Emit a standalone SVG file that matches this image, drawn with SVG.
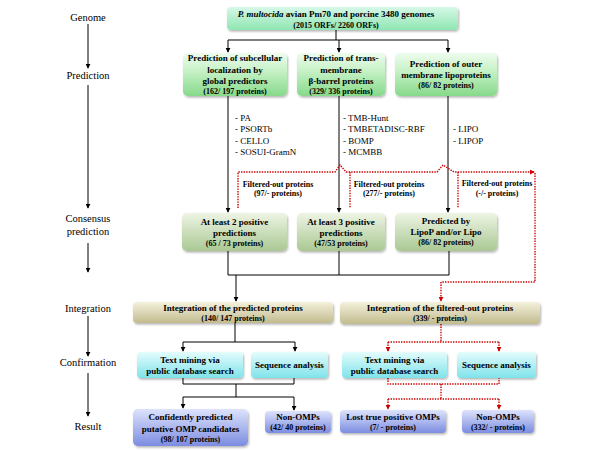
<svg xmlns="http://www.w3.org/2000/svg" width="600" height="450" viewBox="0 0 600 450">
<defs>
<linearGradient id="gGen" x1="0" y1="0" x2="0" y2="1"><stop offset="0" stop-color="#d6f8e8"/><stop offset="1" stop-color="#8fe6b2"/></linearGradient>
<linearGradient id="gPred" x1="0" y1="0" x2="0" y2="1"><stop offset="0" stop-color="#eefcee"/><stop offset="0.4" stop-color="#c8f2c8"/><stop offset="1" stop-color="#86d98a"/></linearGradient>
<linearGradient id="gCons" x1="0" y1="0" x2="0" y2="1"><stop offset="0" stop-color="#eef4e4"/><stop offset="1" stop-color="#a9c893"/></linearGradient>
<linearGradient id="gInt" x1="0" y1="0" x2="0" y2="1"><stop offset="0" stop-color="#f4f1dc"/><stop offset="1" stop-color="#c2bb8e"/></linearGradient>
<linearGradient id="gConf" x1="0" y1="0" x2="0" y2="1"><stop offset="0" stop-color="#e4fcfc"/><stop offset="1" stop-color="#7fe3ea"/></linearGradient>
<linearGradient id="gRes" x1="0" y1="0" x2="0" y2="1"><stop offset="0" stop-color="#dde3fc"/><stop offset="1" stop-color="#7c8ce0"/></linearGradient>
<filter id="sh" x="-10%" y="-10%" width="120%" height="140%"><feDropShadow dx="1" dy="1.5" stdDeviation="1" flood-color="#000" flood-opacity="0.3"/></filter>
<marker id="ab" markerWidth="5" markerHeight="5" refX="2.5" refY="4" orient="auto-start-reverse" markerUnits="userSpaceOnUse" viewBox="0 0 5 5"><path d="M0,0 L5,0 L2.5,5 Z" transform="rotate(-90 2.5 2.5)" fill="#000"/></marker>
<marker id="a" viewBox="0 0 6 6" refX="5" refY="3" markerWidth="5" markerHeight="5" orient="auto" markerUnits="userSpaceOnUse"><path d="M0,0 L6,3 L0,6 Z" fill="#000"/></marker>
<marker id="ar" viewBox="0 0 6 6" refX="5" refY="3" markerWidth="5" markerHeight="5" orient="auto" markerUnits="userSpaceOnUse"><path d="M0,0 L6,3 L0,6 Z" fill="#cc0000"/></marker>
</defs>
<style>
.box{filter:url(#sh);}
.t{font-family:"Liberation Serif","Times New Roman",serif;font-weight:bold;font-size:9px;fill:#000;text-anchor:middle;}
.c{font-family:"Liberation Serif","Times New Roman",serif;font-weight:bold;font-size:8px;fill:#000;text-anchor:middle;}
.m{font-family:"Liberation Serif","Times New Roman",serif;font-size:9px;fill:#000;}
.l{font-family:"Liberation Serif","Times New Roman",serif;font-size:10.5px;fill:#000;text-anchor:middle;}
.k{fill:none;stroke:#000;stroke-width:1;}
.r{fill:none;stroke:#cc0000;stroke-width:1.4;stroke-dasharray:1.4,1.2;}
</style>
<rect width="600" height="450" fill="#fff"/>

<g id="stages">
<text class="l" x="88" y="21">Genome</text>
<text class="l" x="88" y="79">Prediction</text>
<text class="l" x="88" y="222">Consensus</text>
<text class="l" x="88" y="235">prediction</text>
<text class="l" x="88" y="312">Integration</text>
<text class="l" x="88" y="366">Confirmation</text>
<text class="l" x="88" y="430">Result</text>
</g>

<g id="connectors">
<g class="k">
<path d="M88,24 V68" marker-end="url(#a)"/>
<path d="M88,85 V208" marker-end="url(#a)"/>
<path d="M88,243 V272" marker-end="url(#a)"/>
<path d="M88,316 V356" marker-end="url(#a)"/>
<path d="M88,373 V416" marker-end="url(#a)"/>
<path d="M336,30 V40 M228,40 H448"/>
<path d="M228,40 V52" marker-end="url(#a)"/>
<path d="M339,40 V52" marker-end="url(#a)"/>
<path d="M448,40 V52" marker-end="url(#a)"/>
<path d="M228,96 V212" marker-end="url(#a)"/>
<path d="M339,96 V212" marker-end="url(#a)"/>
<path d="M448,96 V212" marker-end="url(#a)"/>
<path d="M228,251 V275 H449 V251 M339,251 V275"/>
<path d="M236,275 V301" marker-end="url(#a)"/>
<path d="M235,323 V342 M183,342 H295"/>
<path d="M183,342 V351" marker-end="url(#a)"/>
<path d="M295,342 V351" marker-end="url(#a)"/>
<path d="M183,378 V384 H294 V378 M236,384 V397 M183,397 H294"/>
<path d="M183,397 V408" marker-end="url(#a)"/>
<path d="M294,397 V410" marker-end="url(#a)"/>
</g>
<g class="r">
<path d="M238,208 V172 H335 L340,165 L346,172 H437 L443,165 L454,172 H534" marker-end="url(#ar)"/>
<path d="M350,172 V208 M458,172 V208"/>
<path d="M535,173 V282 H441" />
<path d="M441,282 V301" marker-end="url(#ar)"/>
<path d="M441,324 V342 M388,342 H499"/>
<path d="M388,342 V351" marker-end="url(#ar)"/>
<path d="M499,342 V351" marker-end="url(#ar)"/>
<path d="M388,378 V384 H499 V378 M441,384 V399 M388,399 H499"/>
<path d="M388,399 V409" marker-end="url(#ar)"/>
<path d="M499,399 V409" marker-end="url(#ar)"/>
</g>
</g>

<g id="methods">
<text class="m" x="235" y="121">- PA</text>
<text class="m" x="235" y="132">- PSORTb</text>
<text class="m" x="235" y="144">- CELLO</text>
<text class="m" x="235" y="155">- SOSUI-GramN</text>
<text class="m" x="343" y="121">- TMB-Hunt</text>
<text class="m" x="343" y="132">- TMBETADISC-RBF</text>
<text class="m" x="343" y="144">- BOMP</text>
<text class="m" x="343" y="155">- MCMBB</text>
<text class="m" x="453" y="132">- LIPO</text>
<text class="m" x="453" y="144">- LIPOP</text>
</g>

<g id="filtered">
<text class="c" x="278" y="187">Filtered-out proteins</text>
<text class="c" x="278" y="196">(97/- proteins)</text>
<text class="c" x="389" y="187">Filtered-out proteins</text>
<text class="c" x="389" y="196">(277/- proteins)</text>
<text class="c" x="497" y="186">Filtered-out proteins</text>
<text class="c" x="497" y="196">(-/- proteins)</text>
</g>

<g id="genome">
<rect class="box" x="227" y="7" width="231" height="23" rx="4" fill="url(#gGen)"/>
<text class="t" x="336" y="17"><tspan font-style="italic">P. multocida</tspan> avian Pm70 and porcine 3480 genomes</text>
<text class="c" x="336" y="28">(2015 ORFs/ 2260 ORFs)</text>
</g>

<g id="pred1">
<rect class="box" x="183" y="53" width="104" height="43" rx="5" fill="url(#gPred)"/>
<text class="t" x="235" y="61">Prediction of subcellular</text>
<text class="t" x="235" y="73">localization by</text>
<text class="t" x="235" y="84">global predictors</text>
<text class="c" x="235" y="94">(162/ 197 proteins)</text>
</g>
<g id="pred2">
<rect class="box" x="297" y="53" width="88" height="43" rx="5" fill="url(#gPred)"/>
<text class="t" x="341" y="61">Prediction of trans-</text>
<text class="t" x="341" y="73">membrane</text>
<text class="t" x="341" y="84">β-barrel proteins</text>
<text class="c" x="341" y="94">(329/ 336 proteins)</text>
</g>
<g id="pred3">
<rect class="box" x="395" y="53" width="102" height="43" rx="5" fill="url(#gPred)"/>
<text class="t" x="446" y="67">Prediction of outer</text>
<text class="t" x="446" y="78">membrane lipoproteins</text>
<text class="c" x="446" y="88">(86/ 82 proteins)</text>
</g>

<g id="cons1">
<rect class="box" x="182" y="213" width="105" height="38" rx="5" fill="url(#gCons)"/>
<text class="t" x="234.5" y="225">At least 2 positive</text>
<text class="t" x="234.5" y="236">predictions</text>
<text class="c" x="234.5" y="246">(65 / 73 proteins)</text>
</g>
<g id="cons2">
<rect class="box" x="297" y="213" width="88" height="38" rx="5" fill="url(#gCons)"/>
<text class="t" x="341" y="225">At least 3 positive</text>
<text class="t" x="341" y="236">predictions</text>
<text class="c" x="341" y="246">(47/53 proteins)</text>
</g>
<g id="cons3">
<rect class="box" x="395" y="213" width="102" height="38" rx="5" fill="url(#gCons)"/>
<text class="t" x="446" y="224">Predicted by</text>
<text class="t" x="446" y="235">LipoP and/or Lipo</text>
<text class="c" x="446" y="245">(86/ 82 proteins)</text>
</g>

<g id="int1">
<rect class="box" x="133" y="302" width="200" height="21" rx="4" fill="url(#gInt)"/>
<text class="t" x="233" y="311">Integration of the predicted proteins</text>
<text class="c" x="233" y="321">(140/ 147 proteins)</text>
</g>
<g id="int2">
<rect class="box" x="340" y="302" width="200" height="22" rx="4" fill="url(#gInt)"/>
<text class="t" x="440" y="311">Integration of the filtered-out proteins</text>
<text class="c" x="440" y="321">(339/ - proteins)</text>
</g>

<g id="conf1">
<rect class="box" x="137" y="352" width="106" height="26" rx="4" fill="url(#gConf)"/>
<text class="t" x="190" y="363">Text mining via</text>
<text class="t" x="190" y="374">public database search</text>
</g>
<g id="conf2">
<rect class="box" x="251" y="352" width="77" height="26" rx="4" fill="url(#gConf)"/>
<text class="t" x="289.5" y="368">Sequence analysis</text>
</g>
<g id="conf3">
<rect class="box" x="342" y="352" width="105" height="26" rx="4" fill="url(#gConf)"/>
<text class="t" x="394.5" y="363">Text mining via</text>
<text class="t" x="394.5" y="374">public database search</text>
</g>
<g id="conf4">
<rect class="box" x="457" y="352" width="79" height="26" rx="4" fill="url(#gConf)"/>
<text class="t" x="496.5" y="368">Sequence analysis</text>
</g>

<g id="res1">
<rect class="box" x="133" y="409" width="115" height="37" rx="5" fill="url(#gRes)"/>
<text class="t" x="190.5" y="420">Confidently predicted</text>
<text class="t" x="190.5" y="432">putative OMP candidates</text>
<text class="c" x="190.5" y="442">(98/ 107 proteins)</text>
</g>
<g id="res2">
<rect class="box" x="265" y="411" width="66" height="22" rx="4" fill="url(#gRes)"/>
<text class="t" x="298" y="420">Non-OMPs</text>
<text class="c" x="298" y="430">(42/ 40 proteins)</text>
</g>
<g id="res3">
<rect class="box" x="340" y="410" width="106" height="23" rx="4" fill="url(#gRes)"/>
<text class="t" x="393" y="420">Lost true positive OMPs</text>
<text class="c" x="393" y="430">(7/ - proteins)</text>
</g>
<g id="res4">
<rect class="box" x="462" y="410" width="72" height="23" rx="4" fill="url(#gRes)"/>
<text class="t" x="498" y="420">Non-OMPs</text>
<text class="c" x="498" y="430">(332/ - proteins)</text>
</g>
</svg>
